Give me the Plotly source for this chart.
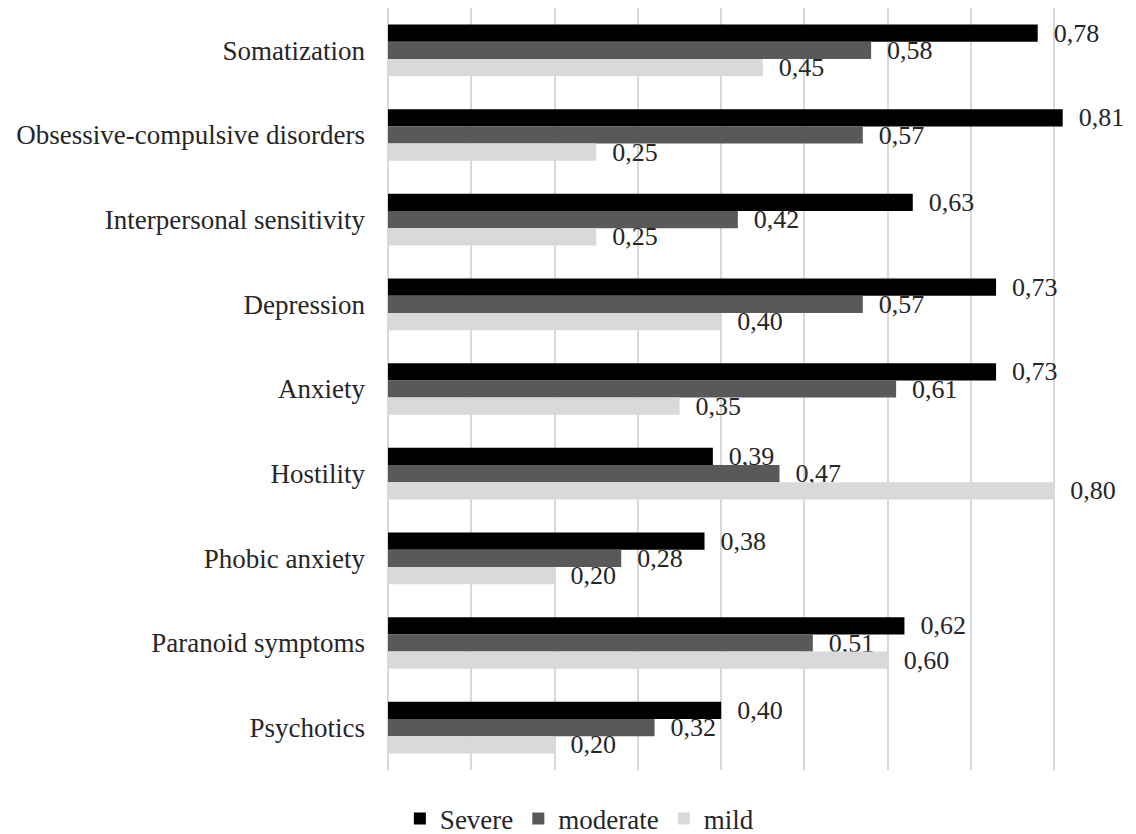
import plotly.graph_objects as go

# Symptom scales (top to bottom) and mean scores per severity group
categories = [
    "Somatization",
    "Obsessive-compulsive disorders",
    "Interpersonal sensitivity",
    "Depression",
    "Anxiety",
    "Hostility",
    "Phobic anxiety",
    "Paranoid symptoms",
    "Psychotics",
]
severe = [0.78, 0.81, 0.63, 0.73, 0.73, 0.39, 0.38, 0.62, 0.40]
moderate = [0.58, 0.57, 0.42, 0.57, 0.61, 0.47, 0.28, 0.51, 0.32]
mild = [0.45, 0.25, 0.25, 0.40, 0.35, 0.80, 0.20, 0.60, 0.20]

series = [
    ("Severe", severe, "#000000"),
    ("moderate", moderate, "#595959"),
    ("mild", mild, "#d9d9d9"),
]

FONT = "Liberation Serif"
TEXT_COLOR = "#262626"
PAD = "\u00a0\u00a0"

fig = go.Figure()
for name, vals, color in series:
    fig.add_trace(
        go.Bar(
            name=name,
            y=categories,
            x=vals,
            orientation="h",
            marker=dict(color=color, line=dict(width=0)),
            texttemplate=PAD + "%{x:.2f}",
            textposition="outside",
            constraintext="none",
            textfont=dict(family=FONT, size=26, color=TEXT_COLOR),
            cliponaxis=False,
        )
    )

fig.update_layout(
    width=1136,
    height=834,
    margin=dict(l=388, r=0, t=8, b=64),
    paper_bgcolor="white",
    plot_bgcolor="white",
    barmode="group",
    bargap=0.39,
    bargroupgap=0,
    separators=", ",
    font=dict(family=FONT, size=27, color=TEXT_COLOR),
    showlegend=True,
    legend=dict(
        orientation="h",
        xref="container",
        yref="container",
        x=0.51,
        y=0.018,
        xanchor="center",
        yanchor="middle",
        font=dict(family=FONT, size=27, color=TEXT_COLOR),
        itemwidth=30,
        traceorder="normal",
    ),
    xaxis=dict(
        range=[0, 0.898],
        dtick=0.1,
        tick0=0,
        showgrid=True,
        gridcolor="#d9d9d9",
        gridwidth=1.5,
        zeroline=True,
        zerolinecolor="#d9d9d9",
        zerolinewidth=1.5,
        showticklabels=False,
        showline=False,
        ticks="",
    ),
    yaxis=dict(
        type="category",
        categoryorder="array",
        categoryarray=categories,
        autorange="reversed",
        showgrid=False,
        showline=False,
        ticks="",
        ticklabelstandoff=22,
        tickfont=dict(family=FONT, size=27, color=TEXT_COLOR),
    ),
)

fig.write_html("out.html")
